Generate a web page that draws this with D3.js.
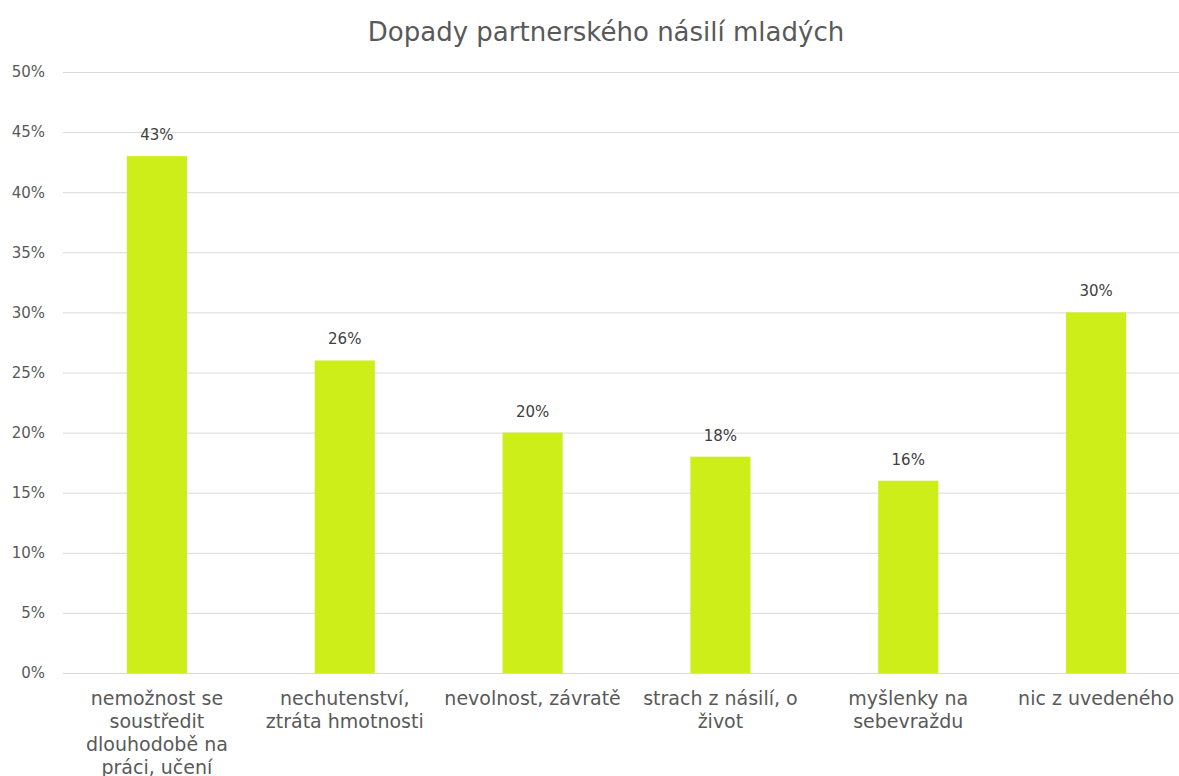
<!DOCTYPE html>
<html><head><meta charset="utf-8">
<script src="https://cdn.jsdelivr.net/npm/d3@7"></script>
<style>body{margin:0;background:#fff}svg{display:block}text{font-family:"DejaVu Sans",Verdana,sans-serif}</style>
</head><body>
<svg id="c" width="1179" height="776"></svg>
<script>
const title = "Dopady partnerského násilí mladých";
const categories = [
  "nemožnost se\nsoustředit\ndlouhodobě na\npráci, učení",
  "nechutenství,\nztráta hmotnosti",
  "nevolnost, závratě",
  "strach z násilí, o\nživot",
  "myšlenky na\nsebevraždu",
  "nic z uvedeného"
];
const values = [0.43, 0.26, 0.20, 0.18, 0.16, 0.30];
const yTicks = [0, 0.05, 0.10, 0.15, 0.20, 0.25, 0.30, 0.35, 0.40, 0.45, 0.50];

const svg = d3.select("#c");
const W = 1179, H = 776;
const m = {left: 63, right: -11, top: 72, bottom: 103};
const x = d3.scaleBand().domain(categories).range([m.left, W - m.right]).paddingInner(0.68).paddingOuter(0.34);
const y = d3.scaleLinear().domain([0, 0.5]).range([H - m.bottom, m.top]);
const grey = "#595959";

svg.append("text").attr("x", 606).attr("y", 41).attr("text-anchor", "middle")
  .attr("font-size", 26).attr("fill", grey).text(title);

// gridlines
const gy = svg.append("g").attr("transform", `translate(${m.left},0)`)
  .call(d3.axisLeft(y).tickValues(yTicks).tickSize(-(W - m.left)).tickFormat(d3.format(".0%")));
gy.select(".domain").remove();
gy.selectAll(".tick line").attr("stroke", "#d9d9d9").attr("stroke-width", 1);
gy.selectAll(".tick text").attr("x", -18).attr("font-size", 15).attr("fill", grey)
  .attr("font-family", "DejaVu Sans, Verdana, sans-serif");

svg.append("g").selectAll("rect").data(values).join("rect")
  .attr("x", (d, i) => x(categories[i]))
  .attr("width", x.bandwidth())
  .attr("y", d => y(d))
  .attr("height", d => y(0) - y(d))
  .attr("fill", "#cdee18");

svg.append("g").selectAll("text").data(values).join("text")
  .attr("x", (d, i) => x(categories[i]) + x.bandwidth() / 2)
  .attr("y", d => y(d) - 16)
  .attr("text-anchor", "middle").attr("font-size", 15).attr("fill", "#404040")
  .text(d => d3.format(".0%")(d));

const xa = svg.append("g").attr("transform", `translate(0,${y(0)})`)
  .call(d3.axisBottom(x).tickSize(0).tickFormat(""));
xa.select(".domain").attr("stroke", "#d9d9d9");

const lab = svg.append("g");
categories.forEach(c => {
  const cx = x(c) + x.bandwidth() / 2;
  const t = lab.append("text").attr("x", cx).attr("y", y(0) + 32)
    .attr("text-anchor", "middle").attr("font-size", 19).attr("fill", grey);
  c.split("\n").forEach((ln, i) => {
    t.append("tspan").attr("x", cx).attr("dy", i === 0 ? 0 : 23).text(ln);
  });
});
</script>
</body></html>
